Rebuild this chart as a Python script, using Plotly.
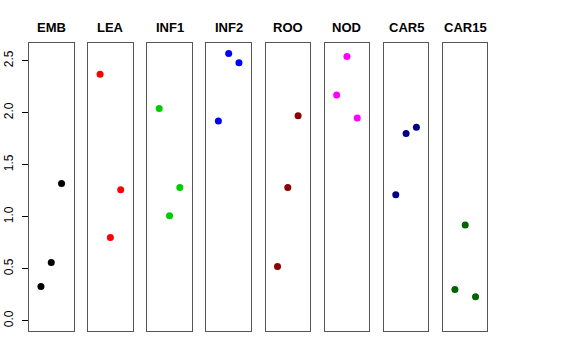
import plotly.graph_objects as go

panels = ["EMB", "LEA", "INF1", "INF2", "ROO", "NOD", "CAR5", "CAR15"]
colors = ["#000000", "#FF0000", "#00CD00", "#0000FF", "#8B0000", "#FF00FF", "#00008B", "#006400"]
x_pos = [1, 2, 3]
values = {
    "EMB":   [0.33, 0.56, 1.32],
    "LEA":   [2.37, 0.80, 1.26],
    "INF1":  [2.04, 1.01, 1.28],
    "INF2":  [1.92, 2.57, 2.48],
    "ROO":   [0.52, 1.28, 1.97],
    "NOD":   [2.17, 2.54, 1.95],
    "CAR5":  [1.21, 1.80, 1.86],
    "CAR15": [0.30, 0.92, 0.23],
}
y_ticks = [0.0, 0.5, 1.0, 1.5, 2.0, 2.5]
y_ticklabels = ["0.0", "0.5", "1.0", "1.5", "2.0", "2.5"]

W, H = 576, 360
fig = go.Figure()
layout = {}
annotations = []
top_px, bot_px = 43, 331
for i, (name, col) in enumerate(zip(panels, colors)):
    left = 29 + i * 59.14
    right = left + 44.5
    idx = "" if i == 0 else str(i + 1)
    fig.add_trace(go.Scatter(
        x=x_pos, y=values[name], mode="markers",
        marker=dict(color=col, size=7),
        xaxis="x" + idx, yaxis="y" + idx, showlegend=False,
        hoverinfo="y",
    ))
    layout["xaxis" + idx] = dict(
        domain=[left / W, right / W], range=[-0.16, 4.16],
        showticklabels=False, ticks="", showgrid=False, zeroline=False,
        showline=True, mirror=True, linecolor="#555555", linewidth=1.3,
        anchor="y" + idx, fixedrange=True, automargin=False,
    )
    yax = dict(
        domain=[1 - bot_px / H, 1 - top_px / H], range=[-0.099, 2.670],
        showgrid=False, zeroline=False,
        showline=True, mirror=True, linecolor="#555555", linewidth=1.3,
        anchor="x" + idx, fixedrange=True, automargin=False,
    )
    if i == 0:
        yax.update(
            tickmode="array", tickvals=y_ticks, ticktext=y_ticklabels,
            ticks="outside", ticklen=6, tickcolor="#000000", tickwidth=1,
            tickangle=-90, tickfont=dict(family="Liberation Sans, Arial", size=12, color="#000000"),
            ticklabelstandoff=4,
        )
    else:
        yax.update(showticklabels=False, ticks="")
    layout["yaxis" + idx] = yax
    annotations.append(dict(
        text="<b>" + name + "</b>", x=(left + right) / 2 / W, y=1 - 28 / H,
        xref="paper", yref="paper", xanchor="center", yanchor="middle",
        showarrow=False, font=dict(family="Liberation Sans, Arial", size=13, color="#000000"),
    ))

fig.update_layout(
    width=W, height=H, margin=dict(l=0, r=0, t=0, b=0, autoexpand=False),
    paper_bgcolor="white", plot_bgcolor="white",
    annotations=annotations, **layout,
)
fig.write_html(
    "out.html",
    config={"displayModeBar": False},
    post_script="document.body.style.margin='0px';document.body.style.overflow='hidden';",
)
